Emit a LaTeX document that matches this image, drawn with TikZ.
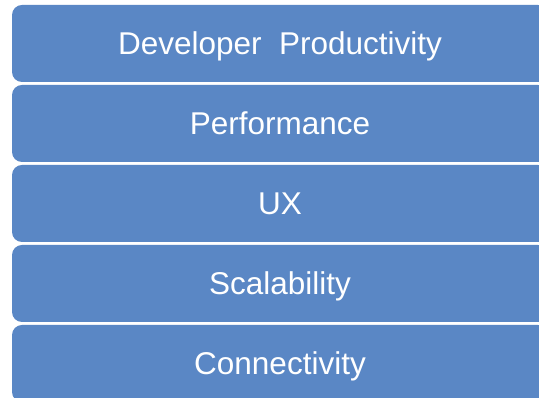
\documentclass[tikz,border=0pt]{standalone}
\usepackage{fontspec}
\setmainfont{Liberation Sans}
\definecolor{layerblue}{RGB}{90,135,197}
\begin{document}
\begin{tikzpicture}[x=1pt,y=1pt,
  layer/.style={fill=layerblue, draw=none, rounded corners=10pt,
    minimum width=536pt, minimum height=77pt, inner sep=0pt,
    text=white, font=\fontsize{31.5}{31.5}\selectfont,
    text height=22.5pt, text depth=0pt}]
\useasboundingbox (0,0) rectangle (539,398);
\clip (0,0) rectangle (539,398);
\fill[white] (0,0) rectangle (539,398);
\node[layer] (dev)  at (280,398-43.5)  {Developer\ \ Productivity};
\node[layer] (perf) at (280,398-123.5) {Performance};
\node[layer] (ux)   at (280,398-203.5) {UX};
\node[layer] (scal) at (280,398-283.5) {Scalability};
\node[layer] (conn) at (280,398-363.5) {Connectivity};
\end{tikzpicture}
\end{document}
